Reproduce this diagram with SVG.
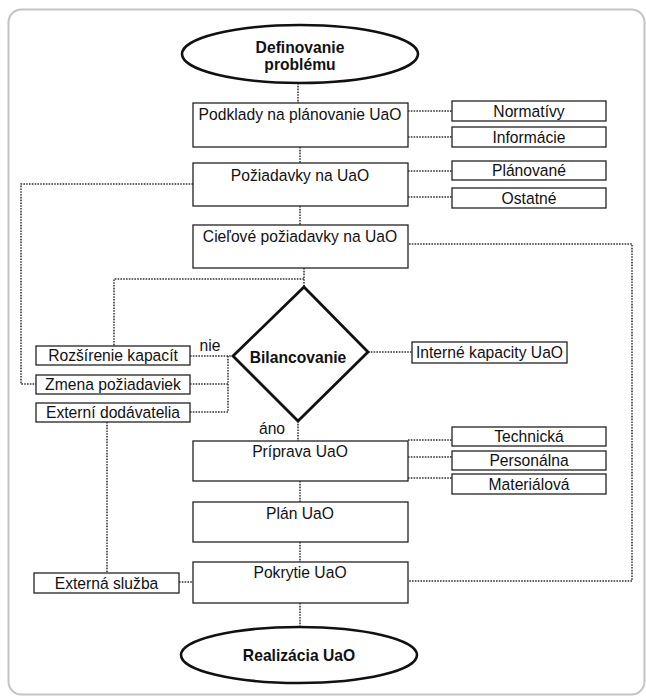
<svg xmlns="http://www.w3.org/2000/svg" width="646" height="698" viewBox="0 0 646 698">
<style>
.box{fill:#fff;stroke:#222;stroke-width:1.3}
.term{fill:#fff;stroke:#111;stroke-width:2.6}
.t{font-family:"Liberation Sans",Arial,sans-serif;font-size:16.5px;fill:#111;text-anchor:middle}
.b{font-weight:bold}
.c{fill:none;stroke:#333;stroke-width:1.5;stroke-dasharray:1.6 1.2}
</style>
<rect x="8.5" y="9.5" width="636" height="685" rx="13" fill="#fff" stroke="#c4c4c4" stroke-width="2"/>
<g id="connectors">
<path class="c" d="M298,83 V103"/>
<path class="c" d="M300,147 V163"/>
<path class="c" d="M300,206 V225"/>
<path class="c" d="M304,268 V287"/>
<path class="c" d="M304,279 H114 V346"/>
<path class="c" d="M193,184 H21 V384 H36"/>
<path class="c" d="M409,244 H632 V581 H409"/>
<path class="c" d="M408,111 H452 M408,137 H452 M408,171 H452 M408,197 H452"/>
<path class="c" d="M368,352 H412"/>
<path class="c" d="M190,356 H233 M190,384 H228 M190,412 H228 M228,356 V412"/>
<path class="c" d="M107,422 V573"/>
<path class="c" d="M179,582 H193"/>
<path class="c" d="M298,421 V441"/>
<path class="c" d="M408,440 H452 M408,457 H452 M408,478 H452"/>
<path class="c" d="M300,481 V502"/>
<path class="c" d="M300,542 V562"/>
<path class="c" d="M300,603 V627"/>
<text class="t" transform="matrix(0.95 0 0 1 210 0)" x="0" y="351">nie</text>
<text class="t" transform="matrix(0.95 0 0 1 272 0)" x="0" y="434">áno</text>
</g>
<g id="start"><ellipse class="term" cx="300" cy="54" rx="118" ry="29"/><text class="t b" transform="matrix(0.95 0 0 1 300 0)" x="0" y="53">Definovanie</text><text class="t b" transform="matrix(0.95 0 0 1 300 0)" x="0" y="70">problému</text></g>
<g id="podklady"><rect class="box" x="193" y="103" width="215" height="44"/><text class="t" transform="matrix(0.95 0 0 1 300 0)" x="0" y="120">Podklady na plánovanie UaO</text></g>
<g id="normativy"><rect class="box" x="452" y="101" width="154" height="20"/><text class="t" transform="matrix(0.95 0 0 1 529 0)" x="0" y="117">Normatívy</text></g>
<g id="informacie"><rect class="box" x="452" y="127" width="154" height="20"/><text class="t" transform="matrix(0.95 0 0 1 529 0)" x="0" y="143">Informácie</text></g>
<g id="poziadavky"><rect class="box" x="193" y="163" width="215" height="43"/><text class="t" transform="matrix(0.95 0 0 1 300 0)" x="0" y="181">Požiadavky na UaO</text></g>
<g id="planovane"><rect class="box" x="452" y="161" width="154" height="19"/><text class="t" transform="matrix(0.95 0 0 1 529 0)" x="0" y="176.5">Plánované</text></g>
<g id="ostatne"><rect class="box" x="452" y="188" width="154" height="20"/><text class="t" transform="matrix(0.95 0 0 1 529 0)" x="0" y="204">Ostatné</text></g>
<g id="cielove"><rect class="box" x="193" y="225" width="215" height="43"/><text class="t" transform="matrix(0.95 0 0 1 300 0)" x="0" y="242">Cieľové požiadavky na UaO</text></g>
<g id="bilancovanie"><polygon points="304,287 368,352 298,421 233,356" fill="#fff" stroke="#111" stroke-width="2.8" stroke-linejoin="miter"/><text class="t b" transform="matrix(0.95 0 0 1 298 0)" x="0" y="363">Bilancovanie</text></g>
<g id="interne"><rect class="box" x="412" y="342" width="155" height="21"/><text class="t" transform="matrix(0.95 0 0 1 489.5 0)" x="0" y="358.5">Interné kapacity UaO</text></g>
<g id="rozsirenie"><rect class="box" x="36" y="346" width="154" height="19"/><text class="t" transform="matrix(0.95 0 0 1 113 0)" x="0" y="361.5">Rozšírenie kapacít</text></g>
<g id="zmena"><rect class="box" x="36" y="375" width="154" height="19"/><text class="t" transform="matrix(0.95 0 0 1 113 0)" x="0" y="390.5">Zmena požiadaviek</text></g>
<g id="externi"><rect class="box" x="36" y="403" width="154" height="19"/><text class="t" transform="matrix(0.95 0 0 1 113 0)" x="0" y="418.5">Externí dodávatelia</text></g>
<g id="priprava"><rect class="box" x="193" y="441" width="215" height="40"/><text class="t" transform="matrix(0.95 0 0 1 300 0)" x="0" y="457">Príprava UaO</text></g>
<g id="technicka"><rect class="box" x="452" y="427" width="154" height="19"/><text class="t" transform="matrix(0.95 0 0 1 529 0)" x="0" y="442.5">Technická</text></g>
<g id="personalna"><rect class="box" x="452" y="451" width="154" height="19"/><text class="t" transform="matrix(0.95 0 0 1 529 0)" x="0" y="466.5">Personálna</text></g>
<g id="materialova"><rect class="box" x="452" y="474" width="154" height="20"/><text class="t" transform="matrix(0.95 0 0 1 529 0)" x="0" y="490">Materiálová</text></g>
<g id="plan"><rect class="box" x="193" y="502" width="215" height="40"/><text class="t" transform="matrix(0.95 0 0 1 300 0)" x="0" y="519">Plán UaO</text></g>
<g id="pokrytie"><rect class="box" x="193" y="562" width="215" height="41"/><text class="t" transform="matrix(0.95 0 0 1 300 0)" x="0" y="578">Pokrytie UaO</text></g>
<g id="externa"><rect class="box" x="34" y="573" width="145" height="20"/><text class="t" transform="matrix(0.95 0 0 1 106.5 0)" x="0" y="589">Externá služba</text></g>
<g id="end"><ellipse class="term" cx="299" cy="655" rx="118" ry="28"/><text class="t b" transform="matrix(0.95 0 0 1 299 0)" x="0" y="661">Realizácia UaO</text></g>
</svg>
